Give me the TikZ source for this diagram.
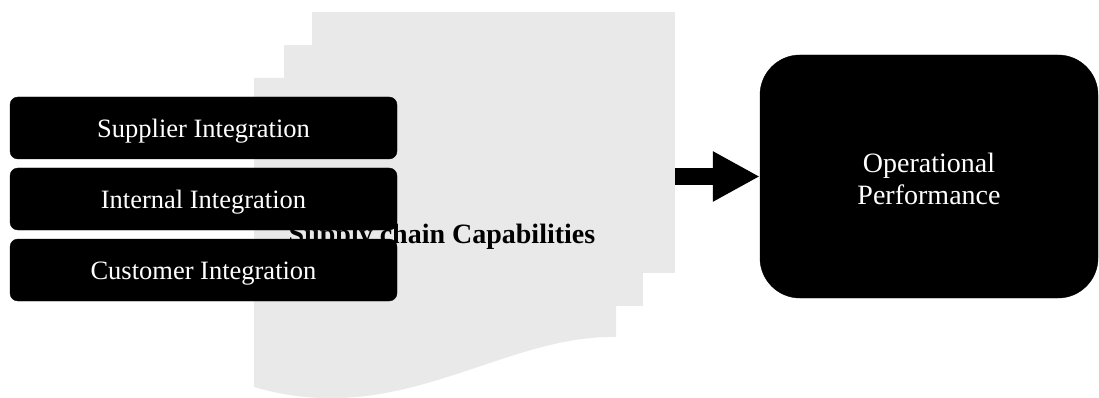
\documentclass[tikz,border=0pt]{standalone}
\usepackage{fontspec}
\setmainfont{Liberation Serif}
\usetikzlibrary{arrows.meta}

\definecolor{pageGray}{RGB}{233,233,233}

\begin{document}
\begin{tikzpicture}
    [ x=1pt, y=-1pt,
      page/.style={fill=pageGray, draw=none},
      integBox/.style={fill=black, draw=black, rounded corners=8pt, text=white,
                       minimum width=387pt, minimum height=62pt,
                       text height=19pt, text depth=0pt,
                       font=\fontsize{26.5}{30}\selectfont},
      perfBox/.style={fill=black, draw=black, rounded corners=40pt, text=white,
                      minimum width=338pt, minimum height=243pt, align=center,
                      font=\fontsize{28}{32}\selectfont},
      capLabel/.style={font=\fontsize{28}{32}\selectfont\bfseries},
      arrowBlock/.style={black, line width=16pt, -{Triangle[length=47pt, width=47pt]}}]

  \useasboundingbox (0,0) rectangle (1099,398);

%%%%%%%%%%%%%%%%%%%%%%%%%%%%%%%%%%%%%%%%%%%%%%%%%%%%%%%%%%%%%%%%%%%%%%%%%%%%%%%%%%%%%%%%%%%%%%%%%%%%%%%%%%
%stacked pages of the capabilities document
	  \fill[page] (312,12) rectangle (675,273);
	  \fill[page] (284,45) rectangle (643,306);
	  \fill[page] (254,78) -- (616,78) -- (616,337)
	        .. controls (500,335) and (400,430) .. (254,387) -- cycle;

	  \node[capLabel, anchor=base] (capab) at (442,243) {Supply chain Capabilities};
	  \coordinate (docRight) at (675,176.5);

%%%%%%%%%%%%%%%%%%%%%%%%%%%%%%%%%%%%%%%%%%%%%%%%%%%%%%%%%%%%%%%%%%%%%%%%%%%%%%%%%%%%%%%%%%%%%%%%%%%%%%%%%%
%integration boxes
	  \node[integBox] (supplier) at (203.5,128) {Supplier Integration};
	  \node[integBox] (internal) at (203.5,199) {Internal Integration};
	  \node[integBox] (customer) at (203.5,270) {Customer Integration};

%%%%%%%%%%%%%%%%%%%%%%%%%%%%%%%%%%%%%%%%%%%%%%%%%%%%%%%%%%%%%%%%%%%%%%%%%%%%%%%%%%%%%%%%%%%%%%%%%%%%%%%%%%
%outcome
	  \node[perfBox] (perf) at (929,176.5) {};
	  \node[text=white, align=center, font=\fontsize{28}{32}\selectfont, yshift=-2pt] (perfText) at (perf) {Operational\\Performance};
	  \draw[arrowBlock] (docRight) -- (perf.west);

\end{tikzpicture}
\end{document}
